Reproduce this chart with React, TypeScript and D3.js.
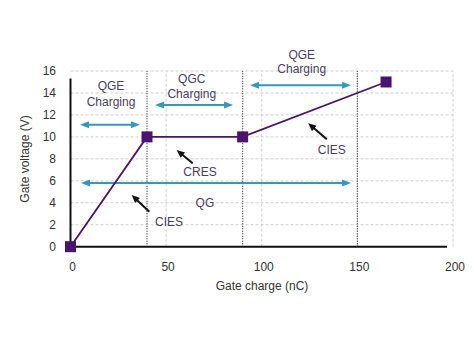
import React from "react";
import * as d3 from "d3";

const xTicks = [0, 50, 100, 150, 200];
const yTicks = [0, 2, 4, 6, 8, 10, 12, 14, 16];
const chargeNC = [0, 40, 90, 165];
const gateV = [0, 10, 10, 15];
const dividerX = [40, 90, 150];

// double arrows: [x1, x2, y]
const spanX1 = [5.0, 44.2, 93.9, 5.5];
const spanX2 = [36.3, 85, 146.7, 146.7];
const spanY = [11.1, 12.9, 14.7, 5.8];

// labels
const labelText = ["QGE", "Charging", "QGC", "Charging", "QGE", "Charging", "CRES", "CIES", "CIES", "QG"];
const labelX = [21.2, 21.2, 63.4, 63.4, 120.9, 120.9, 67.7, 136.6, 51.5, 70.3];
const labelY = [14.6, 13.2, 15.3, 13.9, 17.46, 16.2, 6.83, 8.8, 2.25, 3.98];

// pointer arrows tail -> head
const ptrTailX = [63.9, 134, 41.2];
const ptrTailY = [7.6, 9.78, 3.19];
const ptrHeadX = [55.5, 124.3, 32];
const ptrHeadY = [8.8, 11.24, 4.71];

const W = 474;
const H = 355;
const x = d3.scaleLinear().domain([0, 200]).range([70.5, 453]);
const y = d3.scaleLinear().domain([0, 16]).range([246.7, 71]);

const PURPLE = "#4b136e";
const TEAL = "#3399bb";
const TEXT = "#4a3d5e";
const FONT = "Liberation Sans, Arial, sans-serif";

function head(x1: number, y1: number, x2: number, y2: number, len: number, wid: number, color: string, key: string) {
  const a = Math.atan2(y2 - y1, x2 - x1);
  const bx = x2 - len * Math.cos(a);
  const by = y2 - len * Math.sin(a);
  const px = -Math.sin(a) * wid;
  const py = Math.cos(a) * wid;
  const pts = `${x2},${y2} ${bx + px},${by + py} ${bx - px},${by - py}`;
  return <polygon key={key} points={pts} fill={color} />;
}

export default function App() {
  const line = d3
    .line<number>()
    .x((_, i) => x(chargeNC[i]))
    .y((d) => y(d));
  return (
    <svg width={W} height={H} style={{ position: "absolute", left: 0, top: 0, background: "#fff" }} fontFamily={FONT}>
      {/* grid */}
      {yTicks.filter((t) => t > 0).map((t) => (
        <line key={"gy" + t} x1={x(0)} x2={x(200)} y1={y(t)} y2={y(t)} stroke="#cfcfcf" strokeDasharray="3,2" strokeWidth={1} />
      ))}
      {xTicks.filter((t) => t > 0).map((t) => (
        <line key={"gx" + t} x1={x(t)} x2={x(t)} y1={y(0)} y2={y(16)} stroke="#cfcfcf" strokeDasharray="3,2" strokeWidth={1} />
      ))}
      {/* divider dotted lines */}
      {dividerX.map((d) => (
        <line key={"dv" + d} x1={x(d)} x2={x(d)} y1={y(0)} y2={y(16)} stroke="#444" strokeDasharray="1,1.5" strokeWidth={1.3} />
      ))}
      {/* axes */}
      <line x1={x(0)} x2={x(0)} y1={y(0)} y2={78.5} stroke="#111" strokeWidth={2} />
      <line x1={x(0)} x2={447} y1={y(0)} y2={y(0)} stroke="#111" strokeWidth={2} />
      {/* ticks labels */}
      {yTicks.map((t) => (
        <text key={"yl" + t} x={56} y={y(t)} textAnchor="end" dominantBaseline="central" fontSize={12} fill="#333">{t}</text>
      ))}
      {xTicks.map((t) => (
        <text key={"xl" + t} x={x(t) + 2} y={267} textAnchor="middle" dominantBaseline="central" fontSize={12} fill="#333">{t}</text>
      ))}
      <text x={262} y={286} textAnchor="middle" dominantBaseline="central" fontSize={12} fill="#333">Gate charge (nC)</text>
      <text transform={`translate(25,159) rotate(-90)`} textAnchor="middle" dominantBaseline="central" fontSize={12} fill="#333">Gate voltage (V)</text>
      {/* double arrows */}
      {spanY.map((v, i) => {
        const x1 = x(spanX1[i]);
        const x2 = x(spanX2[i]);
        const yy = y(v);
        return (
          <g key={"sp" + i}>
            <line x1={x1 + 6} x2={x2 - 6} y1={yy} y2={yy} stroke={TEAL} strokeWidth={2} />
            {head(x2, yy, x1, yy, 9, 3.5, TEAL, "a")}
            {head(x1, yy, x2, yy, 9, 3.5, TEAL, "b")}
          </g>
        );
      })}
      {/* pointer arrows */}
      {ptrTailX.map((tx, i) => {
        const x1 = x(tx), y1 = y(ptrTailY[i]);
        const x2 = x(ptrHeadX[i]), y2 = y(ptrHeadY[i]);
        const a = Math.atan2(y2 - y1, x2 - x1);
        return (
          <g key={"pt" + i}>
            <line x1={x1} y1={y1} x2={x2 - 5 * Math.cos(a)} y2={y2 - 5 * Math.sin(a)} stroke="#111" strokeWidth={2} />
            {head(x1, y1, x2, y2, 8, 3.5, "#111", "h")}
          </g>
        );
      })}
      {/* data line */}
      <path d={line(gateV) || ""} fill="none" stroke={PURPLE} strokeWidth={1.8} />
      {gateV.map((v, i) => (
        <rect key={"pt" + i} x={x(chargeNC[i]) - 5.5} y={y(v) - 5.5} width={11} height={11} fill={PURPLE} />
      ))}
      {/* labels */}
      {labelText.map((t, i) => (
        <text key={"lb" + i} x={x(labelX[i])} y={y(labelY[i])} textAnchor="middle" dominantBaseline="central" fontSize={12} fill={TEXT}>{t}</text>
      ))}
    </svg>
  );
}
